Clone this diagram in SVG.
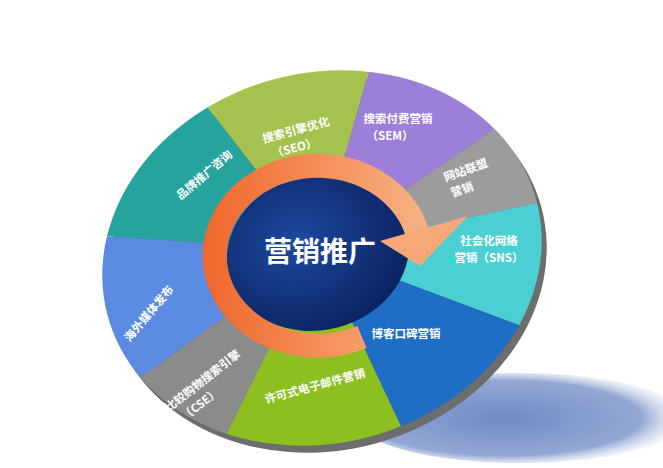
<svg xmlns="http://www.w3.org/2000/svg" width="663" height="468" viewBox="0 0 663 468">
<defs>
<clipPath id="disc"><ellipse cx="322" cy="258" rx="222" ry="185" transform="rotate(-15 322 258)"/></clipPath>
<radialGradient id="shadow" cx="0.45" cy="0.5" r="0.6"><stop offset="0" stop-color="#6f8bc4"/><stop offset="0.7" stop-color="#93a8d4"/><stop offset="1" stop-color="#ffffff" stop-opacity="0"/></radialGradient>
<radialGradient id="core" cx="0.4" cy="0.4" r="0.7"><stop offset="0" stop-color="#1d4aa0"/><stop offset="1" stop-color="#0b1f5c"/></radialGradient>
<linearGradient id="ring" x1="0" y1="0" x2="1" y2="0"><stop offset="0" stop-color="#f06a30"/><stop offset="1" stop-color="#f7b080"/></linearGradient>
<style>
.lbl{font-family:"Noto Sans CJK SC","Liberation Sans",sans-serif;font-size:11.5px;font-weight:bold;fill:#fff;text-anchor:middle}
</style>
</defs>
<rect width="663" height="468" fill="#fff"/>
<ellipse cx="520" cy="418" rx="165" ry="45" fill="url(#shadow)"/>
<ellipse cx="327" cy="265" rx="222" ry="185" transform="rotate(-15 327 265)" fill="#6d6d6d"/>
<g clip-path="url(#disc)">
<g id="n-brand"><polygon points="318,250 -285,211 33,-119" fill="#27a39d"/></g>
<g id="n-seo"><polygon points="318,250 33,-119 465,-266" fill="#a6c24e"/></g>
<g id="n-sem"><polygon points="318,250 465,-266 873,-131" fill="#9d7ed8"/></g>
<g id="n-union"><polygon points="318,250 873,-131 975,109" fill="#9c9c9c"/></g>
<g id="n-sns"><polygon points="318,250 975,109 855,451" fill="#4ccfd2"/></g>
<g id="n-blog"><polygon points="318,250 855,451 534,709" fill="#1e6ec6"/></g>
<g id="n-email"><polygon points="318,250 534,709 45,799" fill="#8cc021"/></g>
<g id="n-cse"><polygon points="318,250 45,799 -255,661" fill="#8b8b8b"/></g>
<g id="n-media"><polygon points="318,250 -255,661 -285,211" fill="#5b8be0"/></g>
</g>
<ellipse cx="318" cy="252" rx="92" ry="78" transform="rotate(-15 318 252)" fill="url(#core)"/>
<g id="connectors">
<path d="M362,337 A103,90 0 1 1 417,232" fill="none" stroke="url(#ring)" stroke-width="24"/>
<polygon points="468,216 380,241 420,266" fill="#f7a878"/>
</g>
<text class="lbl" x="320" y="262" style="font-size:28px">营销推广</text>
<text class="lbl" transform="translate(207,178) rotate(-40)">品牌推广咨询</text>
<text class="lbl" transform="translate(297,134) rotate(-15)">搜索引擎优化<tspan x="-6" dy="17">（SEO）</tspan></text>
<text class="lbl" x="398" y="123">搜索付费营销<tspan x="390" dy="17">（SEM）</tspan></text>
<text class="lbl" transform="translate(467,174) rotate(-20)">网站联盟<tspan x="-10" dy="17">营销</tspan></text>
<text class="lbl" x="489" y="245">社会化网络<tspan x="489" dy="17">营销（SNS）</tspan></text>
<text class="lbl" x="406" y="338">博客口碑营销</text>
<text class="lbl" transform="translate(316,390) rotate(-15)">许可式电子邮件营销</text>
<text class="lbl" transform="translate(205,384) rotate(-38)">比较购物搜索引擎<tspan x="-16" dy="17">（CSE）</tspan></text>
<text class="lbl" transform="translate(152,316) rotate(-50)">海外媒体发布</text>
</svg>
